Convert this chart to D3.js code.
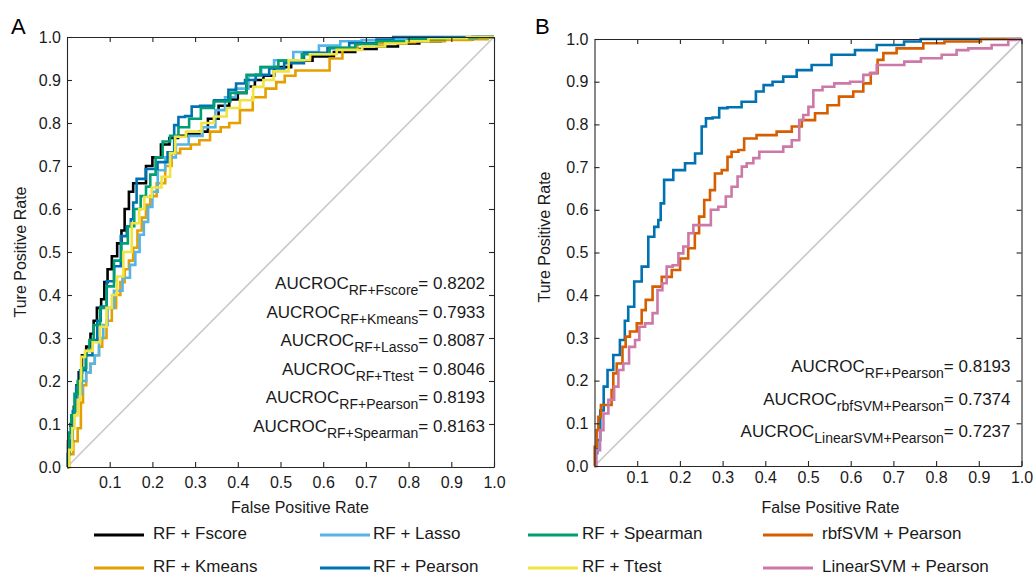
<!DOCTYPE html>
<html>
<head>
<meta charset="utf-8">
<script src="https://cdn.jsdelivr.net/npm/d3@7"></script>
<style>
body { margin: 0; background: #fff; }
svg { font-family: "Liberation Sans", Arial, sans-serif; }
</style>
</head>
<body>
<svg width="1034" height="575"></svg>
<script>
// ROC points [fpr, tpr]
var rfFscore = [[0,0],[0.005,0.06],[0.012,0.1],[0.02,0.14],[0.025,0.19],[0.03,0.22],[0.04,0.26],[0.05,0.28],[0.06,0.31],[0.065,0.34],[0.075,0.37],[0.085,0.39],[0.09,0.43],[0.1,0.46],[0.11,0.49],[0.125,0.52],[0.13,0.55],[0.14,0.6],[0.15,0.64],[0.16,0.66],[0.18,0.66],[0.19,0.7],[0.21,0.72],[0.23,0.75],[0.25,0.765],[0.27,0.77],[0.3,0.775],[0.32,0.78],[0.34,0.81],[0.37,0.84],[0.39,0.855],[0.41,0.87],[0.43,0.885],[0.45,0.9],[0.47,0.91],[0.5,0.93],[0.55,0.945],[0.6,0.955],[0.65,0.965],[0.7,0.972],[0.75,0.978],[0.8,0.985],[0.85,0.99],[0.9,0.995],[1,1]];
var rfKmeans = [[0,0],[0.01,0.03],[0.02,0.06],[0.03,0.09],[0.035,0.15],[0.04,0.19],[0.05,0.22],[0.06,0.24],[0.07,0.26],[0.08,0.28],[0.085,0.3],[0.1,0.34],[0.11,0.37],[0.12,0.4],[0.13,0.43],[0.14,0.46],[0.15,0.48],[0.16,0.51],[0.17,0.55],[0.18,0.58],[0.19,0.61],[0.2,0.63],[0.22,0.66],[0.24,0.7],[0.25,0.73],[0.28,0.74],[0.3,0.75],[0.32,0.76],[0.35,0.78],[0.37,0.79],[0.39,0.8],[0.42,0.83],[0.45,0.86],[0.48,0.88],[0.5,0.895],[0.52,0.91],[0.55,0.922],[0.6,0.922],[0.63,0.95],[0.66,0.975],[0.7,0.985],[0.78,0.988],[0.85,0.99],[0.92,0.993],[0.97,0.995],[1,1]];
var rfLasso = [[0,0],[0.005,0.05],[0.01,0.09],[0.02,0.13],[0.03,0.17],[0.04,0.2],[0.05,0.22],[0.06,0.24],[0.07,0.26],[0.08,0.3],[0.09,0.33],[0.1,0.37],[0.12,0.41],[0.14,0.44],[0.155,0.47],[0.165,0.5],[0.175,0.54],[0.185,0.57],[0.195,0.605],[0.205,0.64],[0.22,0.69],[0.24,0.72],[0.27,0.75],[0.3,0.77],[0.335,0.79],[0.36,0.83],[0.38,0.86],[0.41,0.88],[0.44,0.91],[0.47,0.93],[0.5,0.946],[0.56,0.965],[0.62,0.98],[0.66,0.99],[0.72,0.993],[0.8,0.995],[0.9,0.998],[1,1]];
var rfPearson = [[0,0],[0.004,0.03],[0.009,0.061],[0.018,0.13],[0.025,0.186],[0.036,0.225],[0.052,0.26],[0.067,0.295],[0.075,0.34],[0.083,0.373],[0.103,0.432],[0.118,0.467],[0.134,0.537],[0.146,0.56],[0.153,0.576],[0.157,0.615],[0.169,0.67],[0.2,0.693],[0.224,0.709],[0.247,0.732],[0.255,0.795],[0.267,0.814],[0.286,0.816],[0.298,0.838],[0.325,0.84],[0.364,0.853],[0.392,0.877],[0.4,0.892],[0.434,0.9],[0.45,0.912],[0.497,0.927],[0.52,0.939],[0.59,0.963],[0.63,0.974],[0.692,0.986],[0.758,0.994],[0.77,1],[1,1]];
var rfSpearman = [[0,0],[0.004,0.03],[0.005,0.08],[0.015,0.12],[0.02,0.17],[0.03,0.2],[0.04,0.23],[0.05,0.27],[0.055,0.295],[0.07,0.33],[0.085,0.37],[0.1,0.42],[0.12,0.48],[0.135,0.52],[0.15,0.56],[0.165,0.6],[0.18,0.63],[0.19,0.652],[0.2,0.68],[0.215,0.72],[0.233,0.757],[0.25,0.77],[0.272,0.79],[0.3,0.81],[0.327,0.835],[0.36,0.85],[0.405,0.87],[0.436,0.912],[0.47,0.93],[0.52,0.945],[0.58,0.96],[0.65,0.975],[0.7,0.983],[0.75,0.99],[0.85,0.995],[0.92,0.998],[1,1]];
var rfTtest = [[0,0],[0.01,0.04],[0.015,0.09],[0.02,0.12],[0.03,0.156],[0.032,0.2],[0.034,0.256],[0.05,0.27],[0.07,0.29],[0.085,0.326],[0.1,0.37],[0.11,0.4],[0.124,0.443],[0.14,0.5],[0.163,0.567],[0.175,0.6],[0.187,0.628],[0.21,0.65],[0.233,0.675],[0.25,0.73],[0.257,0.768],[0.3,0.78],[0.33,0.8],[0.358,0.815],[0.39,0.835],[0.42,0.853],[0.452,0.884],[0.468,0.9],[0.5,0.92],[0.538,0.946],[0.6,0.96],[0.663,0.97],[0.72,0.978],[0.77,0.985],[0.82,0.99],[0.873,0.997],[1,1]];
var rbfSvmPearson = [[0,0],[0.001,0.045],[0.009,0.084],[0.009,0.115],[0.021,0.143],[0.036,0.143],[0.044,0.178],[0.044,0.217],[0.06,0.24],[0.071,0.279],[0.075,0.303],[0.091,0.315],[0.107,0.334],[0.114,0.365],[0.126,0.389],[0.146,0.42],[0.169,0.443],[0.193,0.459],[0.208,0.486],[0.231,0.51],[0.239,0.545],[0.251,0.584],[0.263,0.623],[0.278,0.646],[0.286,0.685],[0.31,0.693],[0.313,0.724],[0.329,0.736],[0.345,0.74],[0.356,0.767],[0.403,0.775],[0.45,0.783],[0.474,0.795],[0.497,0.81],[0.536,0.826],[0.555,0.845],[0.59,0.865],[0.622,0.877],[0.637,0.896],[0.657,0.92],[0.669,0.951],[0.684,0.967],[0.731,0.978],[0.809,0.99],[0.83,0.994],[0.98,1],[1,1]];
var linSvmPearson = [[0,0],[0.009,0.037],[0.017,0.084],[0.025,0.123],[0.04,0.155],[0.052,0.186],[0.06,0.225],[0.075,0.24],[0.087,0.279],[0.103,0.295],[0.107,0.326],[0.13,0.334],[0.142,0.358],[0.153,0.412],[0.165,0.428],[0.173,0.467],[0.193,0.47],[0.2,0.498],[0.216,0.514],[0.224,0.545],[0.239,0.564],[0.267,0.564],[0.278,0.6],[0.302,0.607],[0.313,0.631],[0.329,0.654],[0.341,0.678],[0.349,0.701],[0.364,0.709],[0.38,0.721],[0.392,0.736],[0.434,0.736],[0.45,0.748],[0.474,0.763],[0.485,0.81],[0.493,0.822],[0.509,0.841],[0.516,0.88],[0.552,0.888],[0.571,0.896],[0.626,0.9],[0.633,0.916],[0.657,0.92],[0.665,0.939],[0.708,0.939],[0.743,0.947],[0.786,0.955],[0.84,0.963],[0.856,0.974],[0.895,0.978],[0.965,0.986],[0.973,0.998],[1,1]];

var seriesNamesA = ["RF + Fscore", "RF + Kmeans", "RF + Lasso", "RF + Pearson", "RF + Spearman", "RF + Ttest"];
var seriesNamesB = ["RF + Pearson", "rbfSVM + Pearson", "LinearSVM + Pearson"];
var seriesColors = {
  "RF + Fscore": "#000000", "RF + Kmeans": "#E69F00", "RF + Lasso": "#56B4E9",
  "RF + Pearson": "#0072B2", "RF + Spearman": "#009E73", "RF + Ttest": "#F0E442",
  "rbfSVM + Pearson": "#D55E00", "LinearSVM + Pearson": "#CC79A7"
};

// AUC annotations (subscript label, value text)
var aucSubA = ["RF+Fscore", "RF+Kmeans", "RF+Lasso", "RF+Ttest", "RF+Pearson", "RF+Spearman"];
var aucValA = ["= 0.8202", "= 0.7933", "= 0.8087", " = 0.8046", "= 0.8193", "= 0.8163"];
var aucSubB = ["RF+Pearson", "rbfSVM+Pearson", "LinearSVM+Pearson"];
var aucValB = ["= 0.8193", "= 0.7374", "= 0.7237"];

var xTicks = [0.1, 0.2, 0.3, 0.4, 0.5, 0.6, 0.7, 0.8, 0.9, 1.0];
var yTicks = [0, 0.1, 0.2, 0.3, 0.4, 0.5, 0.6, 0.7, 0.8, 0.9, 1.0];

// legend layout: column-major, 2 rows
var legendOrder = ["RF + Fscore", "RF + Kmeans", "RF + Lasso", "RF + Pearson", "RF + Spearman", "RF + Ttest", "rbfSVM + Pearson", "LinearSVM + Pearson"];

var svg = d3.select("svg");
var fmt = d3.format(".1f");

function drawPanel(opt) {
  var g = svg.append("g").attr("transform", "translate(" + opt.left + "," + opt.top + ")");
  var w = opt.width, h = opt.height;

  var x = d3.scaleLinear().domain([0, 1]).range([0, w]);
  var y = d3.scaleLinear().domain([0, 1]).range([h, 0]);

  // chance line
  g.append("line")
    .attr("x1", x(0)).attr("y1", y(0))
    .attr("x2", x(1)).attr("y2", y(1))
    .attr("stroke", "#c8c8c8").attr("stroke-width", 1.6);

  var line = d3.line()
    .x(d => x(d[0]))
    .y(d => y(d[1]))
    .curve(d3.curveStep);

  opt.series.forEach(function(s) {
    g.append("path")
      .datum(s.values)
      .attr("fill", "none")
      .attr("stroke", seriesColors[s.name])
      .attr("stroke-width", 2.6)
      .attr("stroke-linejoin", "miter")
      .attr("d", line);
  });

  // box axes with inward ticks
  var xAxis = g.append("g").attr("transform", "translate(0," + h + ")")
    .call(d3.axisBottom(x).tickValues(xTicks).tickFormat(fmt).tickSizeInner(-5).tickSizeOuter(0).tickPadding(opt.xPad));
  var yAxis = g.append("g")
    .call(d3.axisLeft(y).tickValues(yTicks).tickFormat(fmt).tickSizeInner(-5).tickSizeOuter(0).tickPadding(6));
  var topAxis = g.append("g")
    .call(d3.axisTop(x).tickValues(xTicks).tickFormat("").tickSizeInner(-5).tickSizeOuter(0));
  var rightAxis = g.append("g").attr("transform", "translate(" + w + ",0)")
    .call(d3.axisRight(y).tickValues(yTicks).tickFormat("").tickSizeInner(-5).tickSizeOuter(0));

  [xAxis, yAxis, topAxis, rightAxis].forEach(function(a) {
    a.selectAll("path, line").attr("stroke", "#262626").attr("stroke-width", 1.1);
    a.selectAll("text").attr("fill", "#1a1a1a").style("font-size", "16px")
      .style("font-family", "'Liberation Sans', Arial, sans-serif");
  });

  // axis titles
  g.append("text")
    .attr("x", opt.xTitleX).attr("y", opt.xTitleY)
    .attr("text-anchor", "middle").attr("dominant-baseline", "middle")
    .style("font-size", "16px").attr("fill", "#1a1a1a")
    .text("False Positive Rate");
  g.append("text")
    .attr("transform", "translate(" + opt.yTitleX + "," + opt.yTitleY + ") rotate(-90)")
    .attr("text-anchor", "middle").attr("dominant-baseline", "middle")
    .style("font-size", "16px").attr("fill", "#1a1a1a")
    .text("Ture Positive Rate");

  // panel letter
  svg.append("text")
    .attr("x", opt.letterX).attr("y", 34)
    .style("font-size", "22px").attr("fill", "#000")
    .text(opt.letter);

  // AUC annotations
  opt.subs.forEach(function(sub, i) {
    var t = g.append("text")
      .attr("x", opt.annX).attr("y", opt.annY + i * opt.annStep)
      .attr("text-anchor", "end")
      .attr("fill", "#1a1a1a")
      .style("font-size", "17px");
    t.append("tspan").text("AUCROC");
    t.append("tspan").attr("dy", 6).style("font-size", "14px").text(sub);
    t.append("tspan").attr("dy", -6).text(opt.vals[i]);
  });
}

drawPanel({
  left: 67, top: 37, width: 427, height: 430, letter: "A", letterX: 11,
  series: seriesNamesA.map((n, i) => ({name: n, values: [rfFscore, rfKmeans, rfLasso, rfPearson, rfSpearman, rfTtest][i]})),
  subs: aucSubA, vals: aucValA, annX: 418, annY: 252, annStep: 28.6,
  xPad: 10, xTitleX: 233, xTitleY: 472, yTitleX: -45, yTitleY: 215
});

drawPanel({
  left: 594.5, top: 39, width: 427, height: 427, letter: "B", letterX: 535,
  series: seriesNamesB.map((n, i) => ({name: n, values: [rfPearson, rbfSvmPearson, linSvmPearson][i]})),
  subs: aucSubB, vals: aucValB, annX: 416, annY: 333, annStep: 32.5,
  xPad: 6, xTitleX: 236, xTitleY: 470, yTitleX: -49, yTitleY: 198
});

// legend
var legCols = [{lx: 94, tx: 153}, {lx: 320, tx: 373}, {lx: 528, tx: 582}, {lx: 763, tx: 822}];
var legRows = [535, 568];
var legend = svg.append("g");
legendOrder.forEach(function(name, i) {
  var c = legCols[Math.floor(i / 2)], r = legRows[i % 2];
  legend.append("line")
    .attr("x1", c.lx).attr("x2", c.lx + 50)
    .attr("y1", r).attr("y2", r)
    .attr("stroke", seriesColors[name]).attr("stroke-width", 2.8);
  legend.append("text")
    .attr("x", c.tx).attr("y", r)
    .attr("dominant-baseline", "middle")
    .style("font-size", "17px").attr("fill", "#1a1a1a")
    .text(name);
});
</script>
</body>
</html>
